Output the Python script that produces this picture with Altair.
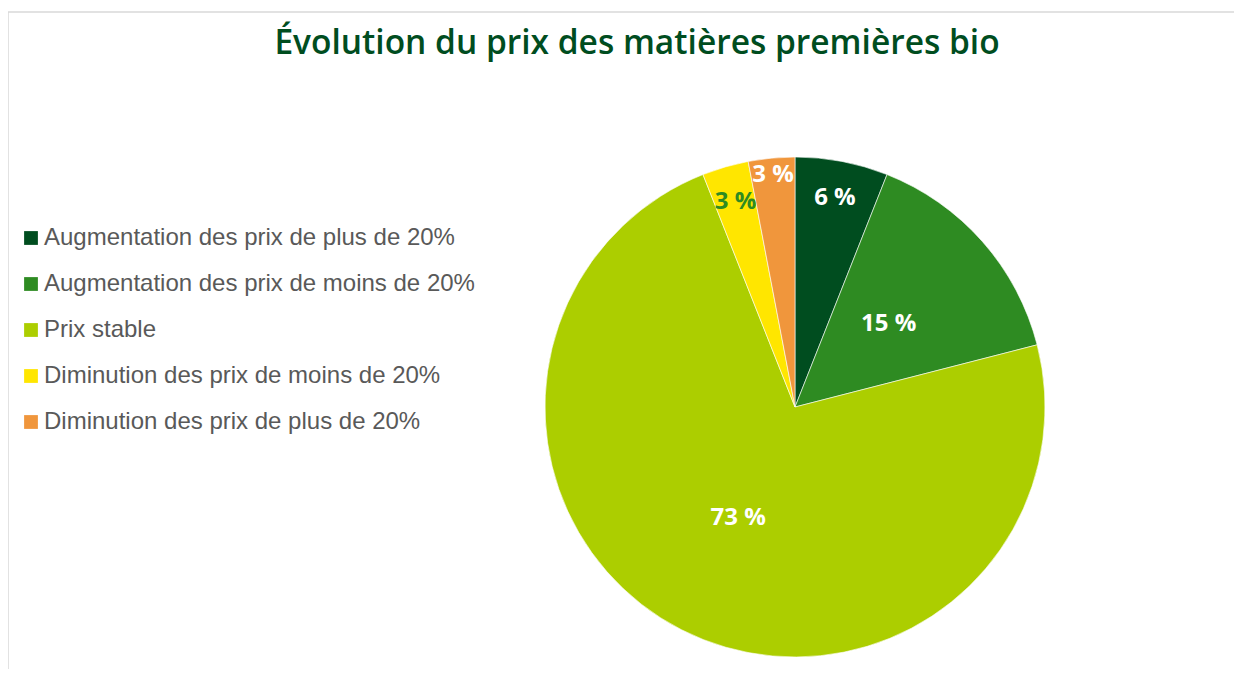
import altair as alt
import pandas as pd

categories = [
    "Augmentation des prix de plus de 20%",
    "Augmentation des prix de moins de 20%",
    "Prix stable",
    "Diminution des prix de moins de 20%",
    "Diminution des prix de plus de 20%",
]
values = [6, 15, 73, 3, 3]
colors = ["#004d1f", "#2e8b22", "#acce00", "#ffe600", "#f0963c"]

df = pd.DataFrame({"categorie": categories, "valeur": values, "ordre": list(range(len(categories)))})
total = sum(values)

W, H = 1226, 657
CX, CY, R = 787, 395, 250

arcs = alt.Chart(df).mark_arc(outerRadius=R, stroke="white", strokeWidth=0.6).encode(
    theta=alt.Theta("valeur:Q", stack=True, scale=alt.Scale(domain=[0, total])),
    order=alt.Order("ordre:Q"),
    x=alt.value(CX),
    y=alt.value(CY),
    color=alt.Color(
        "categorie:N",
        sort=categories,
        scale=alt.Scale(domain=categories, range=colors),
        legend=alt.Legend(
            title=None,
            orient="none",
            legendX=11,
            legendY=214,
            symbolType="square",
            symbolSize=190,
            symbolStrokeWidth=0,
            labelFont="Liberation Sans",
            labelFontSize=24,
            labelColor="#595959",
            labelOffset=1,
            rowPadding=22,
            labelLimit=700,
        ),
    ),
)

# small slices: labels near the rim; the last small slice is pushed outward to avoid overlap
labels = (
    alt.Chart(df)
    .transform_window(cum="sum(valeur)", sort=[alt.SortField("ordre")], frame=[None, 0])
    .transform_calculate(
        mid="datum.cum - datum.valeur / 2",
        label="datum.valeur + ' %'",
        r="datum.valeur >= 10 ? 125 : (datum.ordre == 4 ? 233 : 213)",
    )
    .mark_text(font="Open Sans", fontSize=24, fontWeight="bold")
    .encode(
        theta=alt.Theta("mid:Q", stack=None, scale=alt.Scale(domain=[0, total])),
        x=alt.value(CX),
        y=alt.value(CY),
        radius=alt.Radius("r:Q", scale=None),
        text="label:N",
        color=alt.condition(
            alt.datum.categorie == "Diminution des prix de moins de 20%",
            alt.value("#2e8b22"),
            alt.value("white"),
        ),
    )
)

frame_df = pd.DataFrame({"k": [0]})
top_line = alt.Chart(frame_df).mark_rule(color="#d9d9d9", strokeWidth=1.5).encode(
    x=alt.value(0), x2=alt.value(W), y=alt.value(0)
)
left_line = alt.Chart(frame_df).mark_rule(color="#d9d9d9", strokeWidth=1.5).encode(
    x=alt.value(0), y=alt.value(0), y2=alt.value(H + 20)
)

chart = (
    alt.layer(top_line, left_line, arcs, labels)
    .resolve_scale(theta="independent")
    .properties(
        width=W,
        height=H,
        autosize=alt.AutoSizeParams(type="none"),
        padding={"left": 0, "top": 4, "right": 0, "bottom": 0},
        title=alt.TitleParams(
            "Évolution du prix des matières premières bio",
            font="Open Sans",
            fontSize=33.5,
            fontWeight=600,
            color="#004d1f",
            anchor="middle",
            dx=16,
            offset=-50,
        ),
    )
    .configure_view(stroke=None)
)

chart.save("out.html", embed_options={"renderer": "svg", "actions": False})
